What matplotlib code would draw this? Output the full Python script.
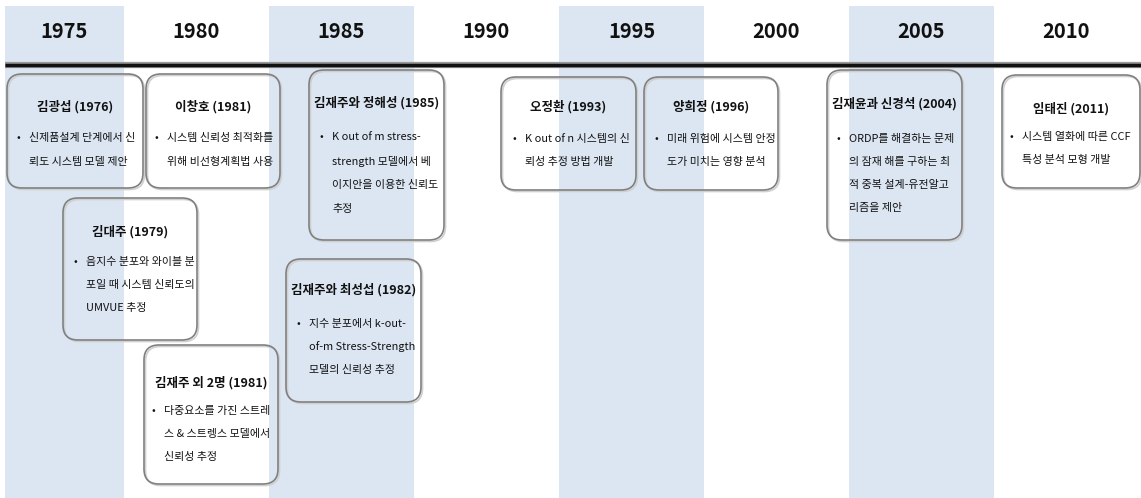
import matplotlib.pyplot as plt
from matplotlib.patches import FancyBboxPatch, Rectangle

plt.rcParams['font.family'] = ['Noto Sans CJK KR', 'DejaVu Sans']

# timeline data
years = ['1975', '1980', '1985', '1990', '1995', '2000', '2005', '2010']

titles = ['김광섭 (1976)', '이창호 (1981)', '김대주 (1979)', '김재주 외 2명 (1981)',
          '김재주와 정해성 (1985)', '김재주와 최성섭 (1982)', '오정환 (1993)',
          '양희정 (1996)', '김재윤과 신경석 (2004)', '임태진 (2011)']

notes = [
    ['신제품설계 단계에서 신', '뢰도 시스템 모델 제안'],
    ['시스템 신뢰성 최적화를', '위해 비선형계획법 사용'],
    ['음지수 분포와 와이블 분', '포일 때 시스템 신뢰도의', 'UMVUE 추정'],
    ['다중요소를 가진 스트레', '스 & 스트렝스 모델에서', '신뢰성 추정'],
    ['K out of m stress-', 'strength 모델에서 베', '이지안을 이용한 신뢰도', '추정'],
    ['지수 분포에서 k-out-', 'of-m Stress-Strength', '모델의 신뢰성 추정'],
    ['K out of n 시스템의 신', '뢰성 추정 방법 개발'],
    ['미래 위험에 시스템 안정', '도가 미치는 영향 분석'],
    ['ORDP를 해결하는 문제', '의 잠재 해를 구하는 최', '적 중복 설계-유전알고', '리즘을 제안'],
    ['시스템 열화에 따른 CCF', '특성 분석 모형 개발'],
]

# layout (pixels): box x0, y0, x1, y1, title y, first line y, line step, bullet x
boxes = [
    (7, 74, 143, 188, 107, 138, 24, 18),
    (146, 74, 280, 188, 107, 138, 24, 156),
    (63, 198, 197, 340, 232, 262, 23, 75),
    (144, 345, 278, 484, 383, 411, 23, 153),
    (309, 70, 444, 240, 103, 137, 24, 321),
    (286, 259, 421, 402, 290, 324, 23, 298),
    (501, 77, 636, 190, 107, 139, 23, 514),
    (644, 77, 778, 190, 107, 139, 23, 656),
    (827, 70, 962, 240, 104, 139, 23, 838),
    (1002, 75, 1140, 188, 109, 137, 23, 1011),
]

W, H = 1141, 498
fig = plt.figure(figsize=(W / 100, H / 100), dpi=100)
ax = fig.add_axes([0, 0, 1, 1])
ax.set_xlim(0, W)
ax.set_ylim(H, 0)
ax.axis('off')

col_w = 145
x_start = -21
for i, yr in enumerate(years):
    left = max(5, x_start + col_w * i)
    right = min(W, x_start + col_w * (i + 1))
    if i % 2 == 0:
        ax.add_patch(Rectangle((left, 6), right - left, H - 6,
                               facecolor='#dce6f2', edgecolor='none', zorder=0))
    ax.text((left + right) / 2, 31, yr, ha='center', va='center',
            fontsize=14.5, fontweight='bold', color='#111111')

# main line
ax.plot([5, W], [65, 65], color='#9a9a9a', lw=4.5, solid_capstyle='butt', zorder=2)
ax.plot([5, W], [65, 65], color='#111111', lw=2.5, solid_capstyle='butt', zorder=3)

for title, lines, b in zip(titles, notes, boxes):
    x0, y0, x1, y1, ty, ly, step, bx = b
    # faint shadow, then outline
    ax.add_patch(FancyBboxPatch((x0 + 1.5, y0 + 1.5), x1 - x0, y1 - y0,
                                boxstyle='round,pad=0,rounding_size=15',
                                facecolor='none', edgecolor='#d0d0d0', lw=1.2, zorder=3))
    ax.add_patch(FancyBboxPatch((x0, y0), x1 - x0, y1 - y0,
                                boxstyle='round,pad=0,rounding_size=15',
                                facecolor='none', edgecolor='#808080', lw=1.2, zorder=4))
    ax.text((x0 + x1) / 2, ty, title, ha='center', va='center',
            fontsize=9, fontweight='semibold', color='#111111', zorder=5)
    ax.text(bx, ly, '•', ha='center', va='center', fontsize=8, color='#111111', zorder=5)
    for k, line in enumerate(lines):
        ax.text(bx + 11, ly + k * step, line, ha='left', va='center',
                fontsize=7.9, fontweight='medium', color='#111111', zorder=5)

fig.savefig('out.png', dpi=100)
